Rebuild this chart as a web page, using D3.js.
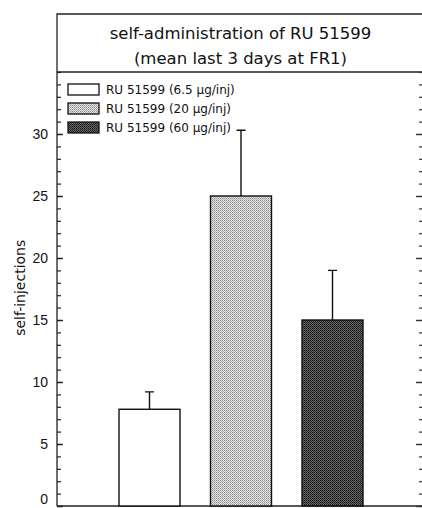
<!DOCTYPE html>
<html lang="en">
<head>
    <meta charset="UTF-8">
    <title>self-administration of RU 51599</title>
    <script src="https://d3js.org/d3.v7.min.js"></script>
    <style>
        body { margin: 0; background: #fff; }
        text { font-family: "DejaVu Sans", "Liberation Sans", sans-serif; fill: #111; }
    </style>
</head>
<body>
    <div class="chart"></div>

    <script>
        // chart data
        const doses = ["RU 51599 (6.5 µg/inj)", "RU 51599 (20 µg/inj)", "RU 51599 (60 µg/inj)"];
        const means = [7.8, 25.0, 15.0];
        const errors = [1.4, 5.3, 4.0];
        const yTicks = [0, 5, 10, 15, 20, 25, 30];
        const titleLines = ["self-administration of RU 51599", "(mean last 3 days at FR1)"];

        const w = 422;
        const h = 508;
        const frameLeft = 57, frameRight = 422, frameTop = 14, titleSep = 72, plotBottom = 506;

        const svg = d3.select(".chart")
            .append("svg")
            .attr("width", w)
            .attr("height", h);

        // fill patterns
        const defs = svg.append("defs");
        const light = defs.append("pattern").attr("id", "light")
            .attr("width", 2).attr("height", 2).attr("patternUnits", "userSpaceOnUse");
        light.append("rect").attr("width", 2).attr("height", 2).attr("fill", "#e6e6e6");
        light.append("rect").attr("width", 1).attr("height", 1).attr("fill", "#8a8a8a");
        light.append("rect").attr("x", 1).attr("y", 1).attr("width", 1).attr("height", 1).attr("fill", "#b0b0b0");

        const dark = defs.append("pattern").attr("id", "dark")
            .attr("width", 2).attr("height", 2).attr("patternUnits", "userSpaceOnUse");
        dark.append("rect").attr("width", 2).attr("height", 2).attr("fill", "#6a6a6a");
        dark.append("rect").attr("width", 1).attr("height", 1).attr("fill", "#111");
        dark.append("rect").attr("x", 1).attr("y", 1).attr("width", 1).attr("height", 1).attr("fill", "#222");

        const fills = ["#fff", "url(#light)", "url(#dark)"];

        // scales
        const x = d3.scaleBand()
            .domain(doses)
            .range([103.75, 378.25])
            .paddingInner(1 / 3)
            .paddingOuter(1 / 6);

        const y = d3.scaleLinear()
            .domain([0, 35])
            .range([plotBottom, titleSep]);

        // frame around the title
        svg.append("path")
            .attr("d", `M${frameLeft},${plotBottom}V${frameTop}H${frameRight}M${frameLeft},${titleSep}H${frameRight}`)
            .attr("fill", "none")
            .attr("stroke", "#222")
            .attr("stroke-width", 1.3);

        svg.selectAll(".title")
            .data(titleLines)
            .join("text")
            .attr("class", "title")
            .attr("x", (frameLeft + frameRight) / 2 + 1)
            .attr("y", (d, i) => 39 + i * 25)
            .attr("text-anchor", "middle")
            .style("font-size", "16.5px")
            .text(d => d);

        // bottom axis line
        svg.append("line")
            .attr("x1", frameLeft).attr("x2", frameRight)
            .attr("y1", plotBottom).attr("y2", plotBottom)
            .attr("stroke", "#222").attr("stroke-width", 1.3);

        // left axis with minor ticks
        const minor = d3.range(0, 36, 1);
        svg.append("g")
            .attr("transform", `translate(${frameLeft},0)`)
            .call(d3.axisRight(y).tickValues(minor).tickSize(4).tickFormat(""))
            .call(g => g.select(".domain").remove())
            .call(g => g.selectAll("line").attr("stroke", "#222").attr("stroke-width", 1.2));
        svg.append("g")
            .attr("transform", `translate(${frameLeft},0)`)
            .call(d3.axisRight(y).tickValues(yTicks).tickSize(6).tickFormat(""))
            .call(g => g.select(".domain").remove())
            .call(g => g.selectAll("line").attr("stroke", "#222").attr("stroke-width", 1.4));

        // tick labels; the zero sits on the bottom edge, so keep it inside
        svg.selectAll(".ytick")
            .data(yTicks)
            .join("text")
            .attr("class", "ytick")
            .attr("x", frameLeft - 9)
            .attr("y", d => Math.min(y(d) + 5, h - 4))
            .attr("text-anchor", "end")
            .style("font-family", "'Liberation Sans', sans-serif")
            .style("font-size", "14px")
            .text(d => d);

        // right axis, ticks only
        svg.append("g")
            .attr("transform", `translate(${frameRight},0)`)
            .call(d3.axisLeft(y).tickValues(minor).tickSize(3).tickFormat(""))
            .call(g => g.select(".domain").remove())
            .call(g => g.selectAll("line").attr("stroke", "#333").attr("stroke-width", 1.2));
        svg.append("g")
            .attr("transform", `translate(${frameRight},0)`)
            .call(d3.axisLeft(y).tickValues(yTicks).tickSize(6).tickFormat(""))
            .call(g => g.select(".domain").remove())
            .call(g => g.selectAll("line").attr("stroke", "#333").attr("stroke-width", 1.4));

        // y axis title
        svg.append("text")
            .attr("transform", `translate(25,${y(17.6)}) rotate(-90)`)
            .attr("text-anchor", "middle")
            .style("font-size", "14px")
            .text("self-injections");

        // error bars (upper only)
        svg.selectAll(".err")
            .data(means)
            .join("path")
            .attr("class", "err")
            .attr("d", (d, i) => {
                const cx = x(doses[i]) + x.bandwidth() / 2;
                return `M${cx},${y(d)}V${y(d + errors[i])}M${cx - 4.5},${y(d + errors[i])}H${cx + 4.5}`;
            })
            .attr("fill", "none")
            .attr("stroke", "#111")
            .attr("stroke-width", 1.4);

        // bars
        svg.selectAll(".bar")
            .data(means)
            .join("rect")
            .attr("class", "bar")
            .attr("x", (d, i) => x(doses[i]))
            .attr("y", d => y(d))
            .attr("width", x.bandwidth())
            .attr("height", d => plotBottom - y(d))
            .attr("fill", (d, i) => fills[i])
            .attr("stroke", "#111")
            .attr("stroke-width", 1.4);

        // legend
        const legend = svg.selectAll(".legend")
            .data(doses)
            .join("g")
            .attr("class", "legend")
            .attr("transform", (d, i) => `translate(68,${84 + i * 19})`);
        legend.append("rect")
            .attr("width", 31)
            .attr("height", 11)
            .attr("fill", (d, i) => fills[i])
            .attr("stroke", "#111")
            .attr("stroke-width", 1.3);
        legend.append("text")
            .attr("x", 38)
            .attr("y", 6)
            .attr("dy", "0.35em")
            .style("font-size", "12px")
            .text(d => d);
    </script>
</body>
</html>
